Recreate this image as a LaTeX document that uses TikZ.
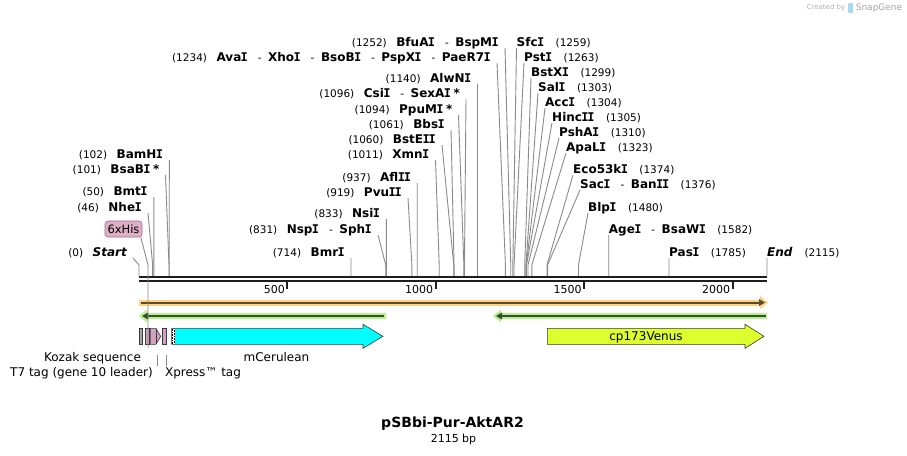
\documentclass[tikz,border=0pt]{standalone}
\usepackage{fontspec}
\setmainfont{DejaVu Sans}
\newfontfamily\monoI{DejaVu Sans Mono}
\definecolor{orfo}{HTML}{FFD27F}
\definecolor{orfd}{HTML}{5A4A32}
\definecolor{grno}{HTML}{B5F28A}
\definecolor{grnd}{HTML}{3F4A36}
\definecolor{pinkf}{HTML}{D3A0BE}
\definecolor{grayf}{HTML}{A3A3AD}
\definecolor{venus}{HTML}{DDFF2E}
\definecolor{cerul}{HTML}{00FFFF}
\definecolor{hisbox}{HTML}{DDB0C8}
\definecolor{hisbd}{HTML}{A06A8C}
\definecolor{leadc}{HTML}{8A8A8A}
\definecolor{mapl}{HTML}{1E1E1E}
\definecolor{featbd}{HTML}{3A3A3A}
\definecolor{logoc}{HTML}{A9D8F0}
\newcommand\enzn[1]{{\fontsize{10.5}{12}\selectfont(#1)}}
\newcommand\enzb[1]{{\bfseries #1}}
\newcommand\sI{\hspace{-0.6pt}{\monoI\bfseries I}\hspace{-0.6pt}}
\newcommand\sepr{\hspace{10.5pt}{\fontsize{10.5}{12}\selectfont -}\hspace{6.5pt}}
\newcommand\lgap{\hspace{9.5pt}}
\newcommand\rgap{\hspace{12pt}}
\tikzset{
  enz/.style={inner sep=0pt, text height=8.7pt, text depth=0pt, font=\fontsize{12}{14}\selectfont},
  leader/.style={draw=leadc, line width=0.9pt},
  featlab/.style={inner sep=0pt, text height=8.7pt, text depth=0pt, font=\fontsize{12}{14}\selectfont},
  feat/.style={draw=featbd, line width=0.6pt},
}
\newcommand\lsite[5]{%
  \node[enz, anchor=east] (#1) at (#3,#4) {#5};
  \coordinate (#1p) at ({139+#2*0.29693},276);
  \draw[leader] ([xshift=6pt,yshift=-6pt]#1.east) -- ([yshift=11pt]#1p) -- (#1p);}
\newcommand\rsite[5]{%
  \node[enz, anchor=west] (#1) at (#3,#4) {#5};
  \coordinate (#1p) at ({139+#2*0.29693},276);
  \draw[leader] ([yshift=-6pt]#1.west) -- ([yshift=11pt]#1p) -- (#1p);}
\begin{document}
\begin{tikzpicture}[x=1pt,y=-1pt]
\useasboundingbox (0,0) rectangle (907,455);
\fill[white] (0,0) rectangle (907,455);

% watermark
\node[inner sep=0pt, text=black!30, font=\fontsize{7}{8}\selectfont] (wm1) at (826,8) {Created by};
\fill[logoc, rounded corners=1pt] (848,3) rectangle (853,13);
\node[inner sep=0pt, text=black!35, font=\fontsize{9}{10}\selectfont] (wm2) at (879,8) {SnapGene};

% left-end labels
\lsite{nStart}{0}{127}{252}{\enzn{0}\lgap\enzb{\itshape Start}}
\lsite{nNheI}{46}{142}{207}{\enzn{46}\lgap\enzb{Nhe\sI}}
\lsite{nBmtI}{50}{147.8}{191}{\enzn{50}\lgap\enzb{Bmt\sI}}
\lsite{nBsaBI}{101}{159.5}{169}{\enzn{101}\lgap\enzb{BsaB\sI\hspace{3pt}*}}
\lsite{nBamHI}{102}{163.3}{154}{\enzn{102}\lgap\enzb{BamH\sI}}

% middle left labels
\lsite{nBmrI}{714}{345}{252}{\enzn{714}\lgap\enzb{Bmr\sI}}
\lsite{nNspI}{831}{372}{229}{\enzn{831}\lgap\enzb{Nsp\sI}\sepr\enzb{Sph\sI}}
\lsite{nNsiI}{833}{380.3}{213}{\enzn{833}\lgap\enzb{Nsi\sI}}
\lsite{nPvuII}{919}{402}{192}{\enzn{919}\lgap\enzb{Pvu\sI\sI}}
\lsite{nAflII}{937}{411.2}{177}{\enzn{937}\lgap\enzb{Afl\sI\sI}}
\lsite{nXmnI}{1011}{429.5}{154}{\enzn{1011}\lgap\enzb{Xmn\sI}}
\lsite{nBstEII}{1060}{436}{139}{\enzn{1060}\lgap\enzb{BstE\sI\sI}}
\lsite{nBbsI}{1061}{445}{124}{\enzn{1061}\lgap\enzb{Bbs\sI}}
\lsite{nPpuMI}{1094}{452.5}{109}{\enzn{1094}\lgap\enzb{PpuM\sI\hspace{3pt}*}}
\lsite{nCsiI}{1096}{460}{93}{\enzn{1096}\lgap\enzb{Csi\sI}\sepr\enzb{SexA\sI\hspace{3pt}*}}
\lsite{nAlwNI}{1140}{471.5}{78}{\enzn{1140}\lgap\enzb{AlwN\sI}}
\lsite{nAvaI}{1234}{491}{57}{\enzn{1234}\lgap\enzb{Ava\sI}\sepr\enzb{Xho\sI}\sepr\enzb{BsoB\sI}\sepr\enzb{PspX\sI}\sepr\enzb{PaeR7\sI}}
\lsite{nBfuAI}{1252}{499}{42}{\enzn{1252}\lgap\enzb{BfuA\sI}\sepr\enzb{BspM\sI}}

% right labels
\rsite{nSfcI}{1259}{516.5}{42}{\enzb{Sfc\sI}\rgap\enzn{1259}}
\rsite{nPstI}{1263}{524}{57}{\enzb{Pst\sI}\rgap\enzn{1263}}
\rsite{nBstXI}{1299}{531}{72}{\enzb{BstX\sI}\rgap\enzn{1299}}
\rsite{nSalI}{1303}{538}{87}{\enzb{Sal\sI}\rgap\enzn{1303}}
\rsite{nAccI}{1304}{545}{102}{\enzb{Acc\sI}\rgap\enzn{1304}}
\rsite{nHincII}{1305}{552}{117}{\enzb{Hinc\sI\sI}\rgap\enzn{1305}}
\rsite{nPshAI}{1310}{559}{132}{\enzb{PshA\sI}\rgap\enzn{1310}}
\rsite{nApaLI}{1323}{566}{147}{\enzb{ApaL\sI}\rgap\enzn{1323}}
\rsite{nEco}{1374}{573}{169}{\enzb{Eco53k\sI}\rgap\enzn{1374}}
\rsite{nSacI}{1376}{580}{184}{\enzb{Sac\sI}\sepr\enzb{Ban\sI\sI}\rgap\enzn{1376}}
\rsite{nBlpI}{1480}{588}{207}{\enzb{Blp\sI}\rgap\enzn{1480}}
\rsite{nAgeI}{1582}{608.7}{229}{\enzb{Age\sI}\sepr\enzb{BsaW\sI}\rgap\enzn{1582}}
\rsite{nPasI}{1785}{669}{252}{\enzb{Pas\sI}\rgap\enzn{1785}}
\rsite{nEnd}{2115}{767}{252}{\enzb{\itshape End}\rgap\enzn{2115}}

% 6xHis feature label
\node[inner sep=0pt, minimum width=37pt, minimum height=16pt, rounded corners=3pt,
      fill=hisbox, draw=hisbd, line width=0.6pt, font=\fontsize{11.5}{13}\selectfont] (his) at (123.5,229) {6xHis};
\coordinate (hisk) at (148,265);
\coordinate (hisf) at (148,348);

% map line
\coordinate (m0) at (139,277);
\coordinate (m1) at (767,277);
\draw[mapl, line width=2.7pt] (m0) -- (m1);
\draw[mapl, line width=2pt] ([yshift=-4pt]m0) -- ([yshift=-4pt]m1);
\foreach \t in {500,1000,1500,2000} {
  \coordinate (t\t) at ({139+\t*0.29693},281);
  \draw[mapl, line width=2pt] (t\t) -- ++(0,8);
  \node[inner sep=0pt, anchor=east, text height=8pt, text depth=0pt, font=\fontsize{11}{13}\selectfont] (tl\t) at ([xshift=-2.5pt, yshift=-8.5pt]t\t) {\t};
}

% ORF bars
\draw[orfo, line width=6pt] (139,302.5) -- (761,302.5);
\fill[orfo] (760,296) -- (768,302.5) -- (760,309) -- cycle;
\draw[orfd, line width=2pt] (141,302.5) -- (760,302.5);
\fill[orfd] (759,299) -- (765,302.5) -- (759,306) -- cycle;

\draw[grno, line width=6pt] (146,316) -- (386,316);
\fill[grno] (147,309.5) -- (139,316) -- (147,322.5) -- cycle;
\draw[grnd, line width=2pt] (147,316) -- (384,316);
\fill[grnd] (148,312.5) -- (142,316) -- (148,319.5) -- cycle;

\draw[grno, line width=6pt] (500,316) -- (767,316);
\fill[grno] (501,309.5) -- (493,316) -- (501,322.5) -- cycle;
\draw[grnd, line width=2pt] (501,316) -- (766,316);
\fill[grnd] (502,312.5) -- (496,316) -- (502,319.5) -- cycle;

% features
\filldraw[feat, fill=grayf] (139.3,328.3) rectangle (142.7,344.3);
\filldraw[feat, fill=pinkf] (145,328.3) rectangle (149,344.3);
\filldraw[feat, fill=pinkf] (150.3,328.3) -- (156,328.3) -- (160.7,336.3) -- (156,344.3) -- (150.3,344.3) -- cycle;
\draw[feat] (156.5,328.8) -- (156.5,343.8);
\filldraw[feat, fill=pinkf] (162.3,328.3) rectangle (166.5,344.3);
\filldraw[feat, fill=cerul] (171.7,328.3) -- (363,328.3) -- (363,324.3) -- (383,336.3) -- (363,348.3) -- (363,344.3) -- (171.7,344.3) -- cycle;
\fill[white] (172,328.8) rectangle (175.3,343.8);
\draw[black, line width=0.8pt, dash pattern=on 0.8pt off 0.8pt] (172.7,328.8) -- (172.7,343.8);
\draw[black, line width=0.8pt, dash pattern=on 0.8pt off 0.8pt] (174.6,329.6) -- (174.6,343.8);
\filldraw[feat, fill=venus] (547.3,328.3) -- (745,328.3) -- (745,324.3) -- (764,336.3) -- (745,348.3) -- (745,344.3) -- (547.3,344.3) -- cycle;

% 6xHis leader over features
\draw[leader] ([xshift=-1.5pt]his.south east) -- (hisk) -- (hisf);

% feature labels
\node[featlab] (kozak) at (92.5,357) {Kozak sequence};
\node[featlab] (t7) at (81.5,372) {T7 tag (gene 10 leader)};
\node[featlab] (xpress) at (203,372) {Xpress™ tag};
\node[featlab] (mcer) at (276.5,357) {mCerulean};
\node[featlab] (venus) at (646,336.3) {cp173Venus};
\coordinate (t7a) at (157,355); \coordinate (t7b) at (157,366);
\coordinate (xpa) at (166,355); \coordinate (xpb) at (166,366);
\draw[leader] (t7a) -- (t7b);
\draw[leader] (xpa) -- (xpb);

% title
\node[inner sep=0pt, font=\fontsize{14}{16}\bfseries\selectfont] (title) at (452.5,424) {pSBbi-Pur-AktAR2};
\node[inner sep=0pt, font=\fontsize{11}{13}\selectfont] (bp) at (453.5,439) {2115 bp};
\end{tikzpicture}
\end{document}
